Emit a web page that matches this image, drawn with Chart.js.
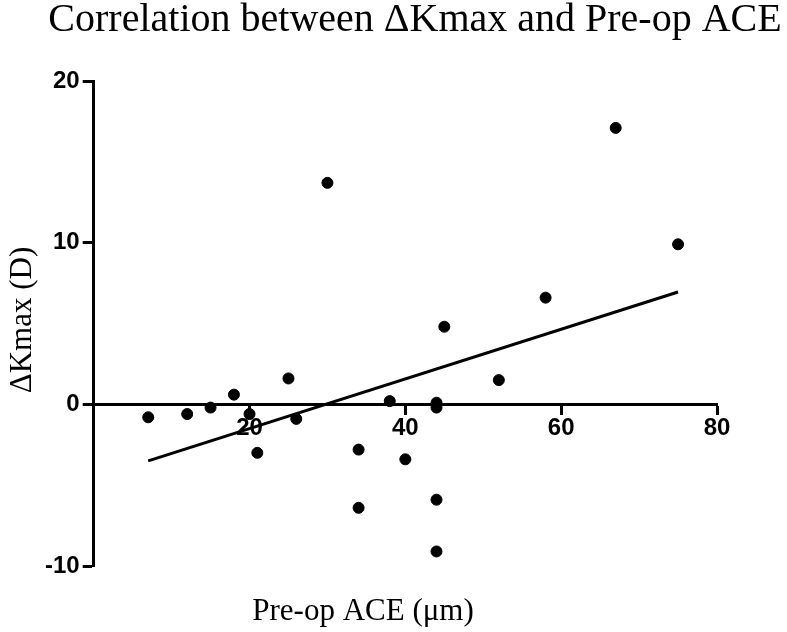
<!DOCTYPE html>
<html>
<head>
<meta charset="utf-8">
<script src="https://cdn.jsdelivr.net/npm/chart.js@4.4.1/dist/chart.umd.min.js"></script>
<style>
  html, body { margin: 0; padding: 0; background: #fff; }
  #wrap { width: 787px; height: 632px; position: relative; }
</style>
</head>
<body>
<div id="wrap"><canvas id="grafica"></canvas></div>
<script>
// valores
const aceValues = [7, 12, 15, 18, 20, 21, 25, 26, 30, 34, 34, 38, 40, 44, 44, 44, 44, 45, 52, 58, 67, 75];
const deltaKmax = [-0.8, -0.6, -0.2, 0.6, -0.6, -3.0, 1.6, -0.9, 13.7, -2.8, -6.4, 0.2, -3.4, 0.1, -0.2, -5.9, -9.1, 4.8, 1.5, 6.6, 17.1, 9.9];
// recta de regresion (extremos)
const lineX = [7, 75];
const lineY = [-3.5, 6.95];
const xTicks = [0, 20, 40, 60, 80];
const yTicks = [-10, 0, 10, 20];

const titulo = 'Correlation between ΔKmax and Pre-op ACE';
const tituloX = 'Pre-op ACE (μm)';
const tituloY = 'ΔKmax (D)';

const puntos = aceValues.map((x, i) => ({ x: x, y: deltaKmax[i] }));
const recta = lineX.map((x, i) => ({ x: x, y: lineY[i] }));

const tickFont = { family: 'Liberation Sans, Arial, sans-serif', size: 24, weight: 'bold' };
const serif = '"Liberation Serif", "Times New Roman", serif';

// textos dibujados a mano para poder ubicarlos como en la figura
const textos = {
    id: 'textos',
    afterDraw(chart) {
        const c = chart.ctx;
        c.save();
        c.fillStyle = '#000';
        c.textBaseline = 'alphabetic';
        c.textAlign = 'center';
        c.font = '40px ' + serif;
        c.fillText(titulo, 415, 31);
        c.font = '31px ' + serif;
        c.fillText(tituloX, 363, 620);
        c.translate(31, 320);
        c.rotate(-Math.PI / 2);
        c.fillText(tituloY, 0, 0);
        c.restore();
    }
};

const ctx = document.getElementById('grafica').getContext('2d');
new Chart(ctx, {
    type: 'scatter',
    data: {
        datasets: [{
            label: 'Pacientes',
            data: puntos,
            backgroundColor: '#000',
            borderColor: '#000',
            pointRadius: 5.5,
            pointHoverRadius: 5.5
        }, {
            label: 'Regresion',
            data: recta,
            showLine: true,
            borderColor: '#000',
            borderWidth: 3,
            pointRadius: 0,
            fill: false
        }]
    },
    options: {
        responsive: true,
        maintainAspectRatio: false,
        animation: false,
        layout: { padding: { left: 42, right: 70, top: 81, bottom: 66 } },
        plugins: {
            legend: { display: false },
            tooltip: { enabled: false },
            title: { display: false }
        },
        scales: {
            x: {
                type: 'linear',
                position: { y: 0 },
                min: 0,
                max: 80,
                afterBuildTicks: axis => { axis.ticks = xTicks.map(v => ({ value: v })); },
                ticks: {
                    color: '#000',
                    font: tickFont,
                    padding: 1,
                    callback: v => (v === 0 ? '' : v)
                },
                grid: { drawOnChartArea: false, drawTicks: true, tickLength: 9, tickWidth: 3, color: '#000' },
                border: { display: true, color: '#000', width: 3 }
            },
            y: {
                type: 'linear',
                min: -10,
                max: 20,
                afterBuildTicks: axis => { axis.ticks = yTicks.map(v => ({ value: v })); },
                ticks: { color: '#000', font: tickFont, padding: 3 },
                grid: { drawOnChartArea: false, drawTicks: true, tickLength: 11, tickWidth: 3, color: '#000' },
                border: { display: true, color: '#000', width: 3 }
            }
        }
    },
    plugins: [textos]
});
</script>
</body>
</html>
